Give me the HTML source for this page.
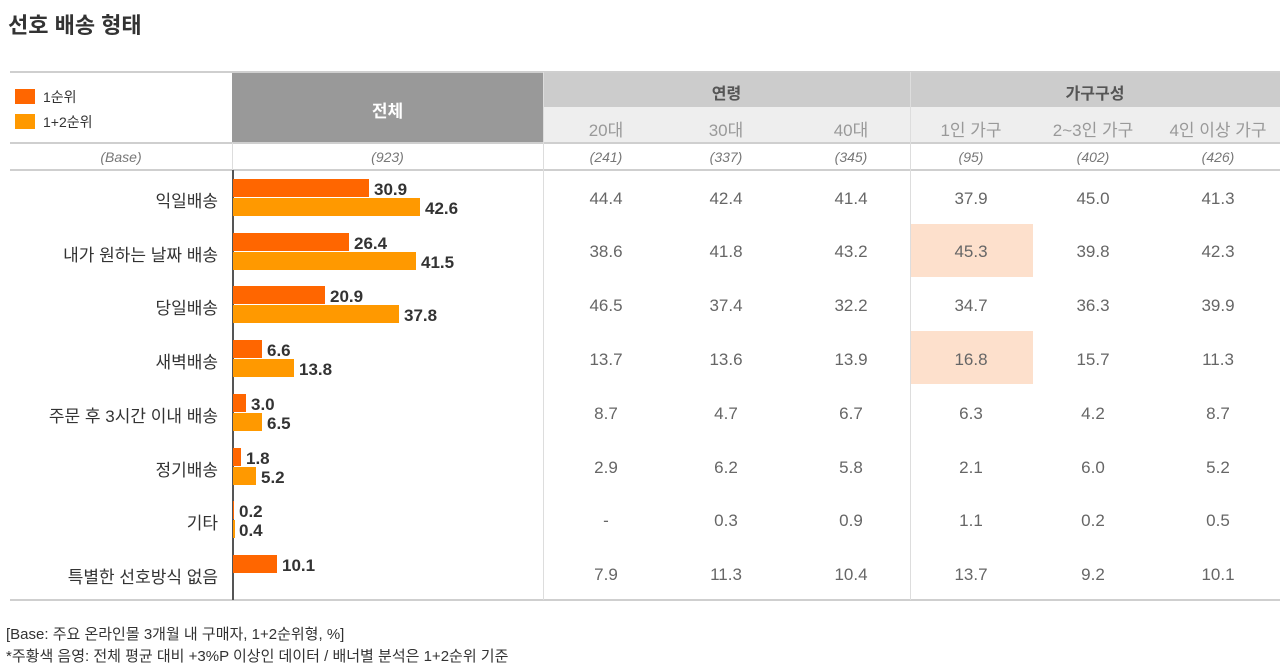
<!DOCTYPE html>
<html><head><meta charset="utf-8"><style>
body{margin:0;width:1280px;height:666px;background:#fff;position:relative;overflow:hidden;font-family:"Liberation Sans","Noto Sans CJK KR",sans-serif}
div{position:absolute}
.t{font-size:22px;font-weight:bold;color:#333;left:8px;top:8px}
.hl{background:#cfcfcf;height:2px}
.c{text-align:center;white-space:nowrap}
.v{font-size:17px;color:#666;width:120px;text-align:center}
.lab{font-size:17px;color:#333;right:1062px;text-align:right;white-space:nowrap}
.b1{background:#ff6600;height:18px;left:233px}
.b2{background:#ff9900;height:18px;left:233px}
.bl{font-size:17px;font-weight:bold;color:#333}
.base{font-size:14px;font-style:italic;color:#777;top:149px}
.sub{font-size:17px;color:#999;top:116px}
</style></head><body>
<div class="t">선호 배송 형태</div>
<div style="left:232px;top:72px;width:311px;height:71px;background:#999"></div>
<div style="left:543px;top:72px;width:737px;height:35px;background:#cccccc"></div>
<div style="left:543px;top:107px;width:737px;height:36px;background:#eeeeee"></div>
<div class="c" style="left:232px;width:311px;top:97px;font-size:17px;font-weight:bold;color:#fff">전체</div>
<div class="c" style="left:543px;width:367px;top:80px;font-size:16px;font-weight:bold;color:#555">연령</div>
<div class="c" style="left:910px;width:370px;top:80px;font-size:16px;font-weight:bold;color:#555">가구구성</div>
<div class="sub v" style="left:546px">20대</div>
<div class="sub v" style="left:666px">30대</div>
<div class="sub v" style="left:791px">40대</div>
<div class="sub v" style="left:911px">1인 가구</div>
<div class="sub v" style="left:1033px">2~3인 가구</div>
<div class="sub v" style="left:1158px">4인 이상 가구</div>
<div style="left:15px;top:89px;width:20px;height:15px;background:#ff6600"></div>
<div style="left:43px;top:87px;font-size:14px;color:#333">1순위</div>
<div style="left:15px;top:114px;width:20px;height:15px;background:#ff9900"></div>
<div style="left:43px;top:112px;font-size:14px;color:#333">1+2순위</div>
<div class="hl" style="left:10px;width:1270px;top:71px"></div>
<div class="hl" style="left:10px;width:1270px;top:142px"></div>
<div class="hl" style="left:10px;width:1270px;top:169px"></div>
<div class="hl" style="left:10px;width:1270px;top:599px"></div>
<div style="left:232px;top:143px;width:1px;height:27px;background:#ddd"></div>
<div style="left:543px;top:72px;width:1px;height:528px;background:#ddd"></div>
<div style="left:910px;top:72px;width:1px;height:528px;background:#ddd"></div>
<div style="left:232px;top:170px;width:2px;height:430px;background:#555"></div>
<div class="base c" style="left:10px;width:222px">(Base)</div>
<div class="base c" style="left:232px;width:311px">(923)</div>
<div class="base v" style="left:546px">(241)</div>
<div class="base v" style="left:666px">(337)</div>
<div class="base v" style="left:791px">(345)</div>
<div class="base v" style="left:911px">(95)</div>
<div class="base v" style="left:1033px">(402)</div>
<div class="base v" style="left:1158px">(426)</div>
<div style="left:911px;top:224px;width:122px;height:53px;background:#fde0cc"></div>
<div style="left:911px;top:331px;width:122px;height:53px;background:#fde0cc"></div>
<div class="lab" style="top:187px">익일배송</div>
<div class="lab" style="top:241px">내가 원하는 날짜 배송</div>
<div class="lab" style="top:294px">당일배송</div>
<div class="lab" style="top:348px">새벽배송</div>
<div class="lab" style="top:402px">주문 후 3시간 이내 배송</div>
<div class="lab" style="top:456px">정기배송</div>
<div class="lab" style="top:509px">기타</div>
<div class="lab" style="top:563px">특별한 선호방식 없음</div>
<div class="b1" style="top:179px;width:136px"></div><div class="b2" style="top:198px;width:187px"></div>
<div class="bl" style="left:374px;top:180px">30.9</div><div class="bl" style="left:425px;top:199px">42.6</div>
<div class="b1" style="top:233px;width:116px"></div><div class="b2" style="top:252px;width:183px"></div>
<div class="bl" style="left:354px;top:234px">26.4</div><div class="bl" style="left:421px;top:253px">41.5</div>
<div class="b1" style="top:286px;width:92px"></div><div class="b2" style="top:305px;width:166px"></div>
<div class="bl" style="left:330px;top:287px">20.9</div><div class="bl" style="left:404px;top:306px">37.8</div>
<div class="b1" style="top:340px;width:29px"></div><div class="b2" style="top:359px;width:61px"></div>
<div class="bl" style="left:267px;top:341px">6.6</div><div class="bl" style="left:299px;top:360px">13.8</div>
<div class="b1" style="top:394px;width:13px"></div><div class="b2" style="top:413px;width:29px"></div>
<div class="bl" style="left:251px;top:395px">3.0</div><div class="bl" style="left:267px;top:414px">6.5</div>
<div class="b1" style="top:448px;width:8px"></div><div class="b2" style="top:467px;width:23px"></div>
<div class="bl" style="left:246px;top:449px">1.8</div><div class="bl" style="left:261px;top:468px">5.2</div>
<div class="b1" style="top:501px;width:1px"></div><div class="b2" style="top:520px;width:2px"></div>
<div class="bl" style="left:239px;top:502px">0.2</div><div class="bl" style="left:239px;top:521px">0.4</div>
<div class="b1" style="top:555px;width:44px"></div>
<div class="bl" style="left:282px;top:556px">10.1</div>
<div class="v" style="left:546px;top:189px">44.4</div><div class="v" style="left:666px;top:189px">42.4</div><div class="v" style="left:791px;top:189px">41.4</div><div class="v" style="left:911px;top:189px">37.9</div><div class="v" style="left:1033px;top:189px">45.0</div><div class="v" style="left:1158px;top:189px">41.3</div>
<div class="v" style="left:546px;top:242px">38.6</div><div class="v" style="left:666px;top:242px">41.8</div><div class="v" style="left:791px;top:242px">43.2</div><div class="v" style="left:911px;top:242px">45.3</div><div class="v" style="left:1033px;top:242px">39.8</div><div class="v" style="left:1158px;top:242px">42.3</div>
<div class="v" style="left:546px;top:296px">46.5</div><div class="v" style="left:666px;top:296px">37.4</div><div class="v" style="left:791px;top:296px">32.2</div><div class="v" style="left:911px;top:296px">34.7</div><div class="v" style="left:1033px;top:296px">36.3</div><div class="v" style="left:1158px;top:296px">39.9</div>
<div class="v" style="left:546px;top:350px">13.7</div><div class="v" style="left:666px;top:350px">13.6</div><div class="v" style="left:791px;top:350px">13.9</div><div class="v" style="left:911px;top:350px">16.8</div><div class="v" style="left:1033px;top:350px">15.7</div><div class="v" style="left:1158px;top:350px">11.3</div>
<div class="v" style="left:546px;top:404px">8.7</div><div class="v" style="left:666px;top:404px">4.7</div><div class="v" style="left:791px;top:404px">6.7</div><div class="v" style="left:911px;top:404px">6.3</div><div class="v" style="left:1033px;top:404px">4.2</div><div class="v" style="left:1158px;top:404px">8.7</div>
<div class="v" style="left:546px;top:458px">2.9</div><div class="v" style="left:666px;top:458px">6.2</div><div class="v" style="left:791px;top:458px">5.8</div><div class="v" style="left:911px;top:458px">2.1</div><div class="v" style="left:1033px;top:458px">6.0</div><div class="v" style="left:1158px;top:458px">5.2</div>
<div class="v" style="left:546px;top:511px">-</div><div class="v" style="left:666px;top:511px">0.3</div><div class="v" style="left:791px;top:511px">0.9</div><div class="v" style="left:911px;top:511px">1.1</div><div class="v" style="left:1033px;top:511px">0.2</div><div class="v" style="left:1158px;top:511px">0.5</div>
<div class="v" style="left:546px;top:565px">7.9</div><div class="v" style="left:666px;top:565px">11.3</div><div class="v" style="left:791px;top:565px">10.4</div><div class="v" style="left:911px;top:565px">13.7</div><div class="v" style="left:1033px;top:565px">9.2</div><div class="v" style="left:1158px;top:565px">10.1</div>
<div style="left:6px;top:623px;font-size:15px;color:#333;white-space:nowrap">[Base: 주요 온라인몰 3개월 내 구매자, 1+2순위형, %]</div>
<div style="left:6px;top:645px;font-size:15px;color:#333;white-space:nowrap">*주황색 음영: 전체 평균 대비 +3%P 이상인 데이터 / 배너별 분석은 1+2순위 기준</div>
</body></html>
